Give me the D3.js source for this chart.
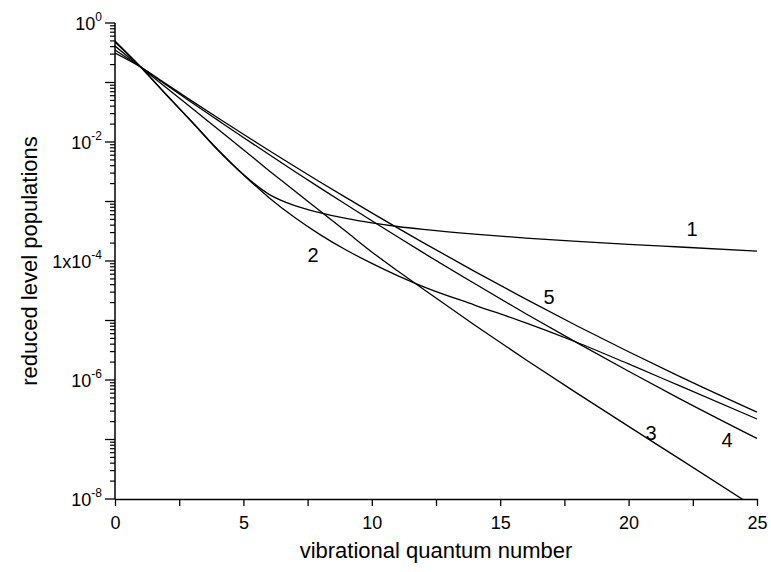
<!DOCTYPE html>
<html>
<head>
<meta charset="utf-8">
<script src="https://cdn.jsdelivr.net/npm/d3@7"></script>
<style>
  body { margin: 0; background: #fff; }
  text { font-family: "Liberation Sans", Arial, Helvetica, sans-serif; fill: #000; }
</style>
</head>
<body>
<div id="chart"></div>
<script>
// vibrational quantum numbers where the curves were read
var levels = [0, 1, 2, 3, 4, 5, 6, 7, 8, 9, 10, 11, 12, 14, 16, 18, 20, 22, 25];

// reduced level populations, one array per curve
var curve1 = [0.479, 0.182, 0.0621, 0.0217, 7.34e-3, 2.84e-3, 1.32e-3, 8.51e-4, 6.46e-4, 5.19e-4, 4.37e-4, 3.80e-4, 3.39e-4, 2.82e-4, 2.43e-4, 2.14e-4, 1.91e-4, 1.72e-4, 1.47e-4];
var curve2 = [0.498, 0.182, 0.0621, 0.0217, 7.48e-3, 2.82e-3, 1.16e-3, 5.37e-4, 2.75e-4, 1.53e-4, 9.12e-5, 5.69e-5, 3.72e-5, 1.82e-5, 9.12e-6, 4.27e-6, 1.86e-6, 7.94e-7, 2.21e-7];
var curve3 = [0.41, 0.182, 0.0818, 0.0368, 0.0165, 7.43e-3, 3.30e-3, 1.50e-3, 6.84e-4, 3.12e-4, 1.42e-4, 6.84e-5, 3.38e-5, 8.41e-6, 2.19e-6, 5.96e-7, 1.66e-7, 4.68e-8, 6.9e-9];
var curve4 = [0.352, 0.182, 0.0910, 0.0458, 0.0233, 0.0119, 6.15e-3, 3.20e-3, 1.68e-3, 8.89e-4, 4.74e-4, 2.55e-4, 1.38e-4, 4.18e-5, 1.30e-5, 4.20e-6, 1.40e-6, 4.82e-7, 1.04e-7];
var curve5 = [0.313, 0.182, 0.0938, 0.0486, 0.0255, 0.0135, 7.21e-3, 3.88e-3, 2.11e-3, 1.16e-3, 6.44e-4, 3.61e-4, 2.04e-4, 6.70e-5, 2.29e-5, 8.09e-6, 2.98e-6, 1.14e-6, 2.88e-7];

// curve labels and where they sit (data coordinates)
var labelNames = ["1", "2", "3", "4", "5"];
var labelV = [22.47, 7.71, 20.87, 23.83, 16.9];
var labelP = [3.45e-4, 1.26e-4, 1.29e-7, 9.8e-8, 2.48e-5];

var xTicks = [0, 5, 10, 15, 20, 25];
var xMinorTicks = [2.5, 7.5, 12.5, 17.5, 22.5];
var yLabelled = [1, 1e-2, 1e-4, 1e-6, 1e-8];
var yLabelText = [["10", "0"], ["10", "-2"], ["1x10", "-4"], ["10", "-6"], ["10", "-8"]];

var W = 771, H = 572;
var margin = { top: 23, right: 14, bottom: 73, left: 115 };
var w = W - margin.left - margin.right;
var h = H - margin.top - margin.bottom;

var svg = d3.select("#chart").append("svg")
    .attr("width", W)
    .attr("height", H);

var g = svg.append("g")
    .attr("transform", "translate(" + margin.left + "," + margin.top + ")");

var x = d3.scaleLinear().domain([0, 25]).range([0, w]);
var y = d3.scaleLog().domain([1e-8, 1]).range([h, 0]);

svg.append("defs").append("clipPath")
    .attr("id", "plot-clip")
    .append("rect")
    .attr("x", 0).attr("y", -5)
    .attr("width", w + 2).attr("height", h + 5);

// curves
var line = d3.line()
    .x(function (d) { return x(d[0]); })
    .y(function (d) { return y(d[1]); })
    .curve(d3.curveMonotoneX);

var series = [curve1, curve2, curve3, curve4, curve5];
g.append("g")
    .attr("clip-path", "url(#plot-clip)")
    .selectAll("path")
    .data(series)
    .join("path")
    .attr("d", function (s) { return line(levels.map(function (v, i) { return [v, s[i]]; })); })
    .attr("fill", "none")
    .attr("stroke", "#000")
    .attr("stroke-width", 1.3);

// x axis
var xAxis = g.append("g").attr("transform", "translate(0," + h + ")");
xAxis.call(d3.axisBottom(x)
    .tickValues(xTicks.concat(xMinorTicks))
    .tickSize(7)
    .tickSizeOuter(0)
    .tickFormat(function (d) { return xTicks.indexOf(d) >= 0 ? d : ""; }));
xAxis.select(".domain").attr("stroke-width", 1.5);
xAxis.selectAll(".tick line").attr("stroke-width", 1.3);
xAxis.selectAll(".tick text")
    .attr("dy", "1.1em")
    .style("font-size", "18px")
    .style("font-family", "'Liberation Sans', Arial, sans-serif");

// y axis: decade ticks long, 2..9 ticks short
var minor = [];
for (var e = -8; e < 0; e++) {
    for (var m = 2; m <= 9; m++) minor.push(m * Math.pow(10, e));
}
var decades = d3.range(-8, 1).map(function (e) { return Math.pow(10, e); });

var yAxis = g.append("g");
yAxis.append("line")
    .attr("x1", 0).attr("x2", 0)
    .attr("y1", y(1)).attr("y2", h)
    .attr("stroke", "#000").attr("stroke-width", 1.5);
yAxis.selectAll(".minor")
    .data(minor)
    .join("line")
    .attr("class", "minor")
    .attr("x1", -5).attr("x2", 0)
    .attr("y1", function (d) { return y(d); })
    .attr("y2", function (d) { return y(d); })
    .attr("stroke", "#000").attr("stroke-width", 1.2);
yAxis.selectAll(".major")
    .data(decades)
    .join("line")
    .attr("class", "major")
    .attr("x1", -10).attr("x2", 0)
    .attr("y1", function (d) { return y(d); })
    .attr("y2", function (d) { return y(d); })
    .attr("stroke", "#000").attr("stroke-width", 1.3);

var yl = yAxis.selectAll(".ylab")
    .data(yLabelled)
    .join("text")
    .attr("class", "ylab")
    .attr("x", -13)
    .attr("y", function (d) { return y(d) + 7; })
    .attr("text-anchor", "end")
    .style("font-size", "18px");
yl.append("tspan").text(function (d, i) { return yLabelText[i][0]; });
yl.append("tspan")
    .attr("dy", -9)
    .style("font-size", "12px")
    .text(function (d, i) { return yLabelText[i][1]; });

// curve labels
g.selectAll(".clab")
    .data(labelNames)
    .join("text")
    .attr("class", "clab")
    .attr("x", function (d, i) { return x(labelV[i]); })
    .attr("y", function (d, i) { return y(labelP[i]); })
    .attr("text-anchor", "middle")
    .attr("dominant-baseline", "central")
    .style("font-size", "20px")
    .text(function (d) { return d; });

// axis titles
svg.append("text")
    .attr("x", margin.left + w / 2)
    .attr("y", 558)
    .attr("text-anchor", "middle")
    .style("font-size", "22px")
    .text("vibrational quantum number");

svg.append("text")
    .attr("transform", "translate(37," + (margin.top + h / 2) + ") rotate(-90)")
    .attr("text-anchor", "middle")
    .style("font-size", "22px")
    .text("reduced level populations");
</script>
</body>
</html>
